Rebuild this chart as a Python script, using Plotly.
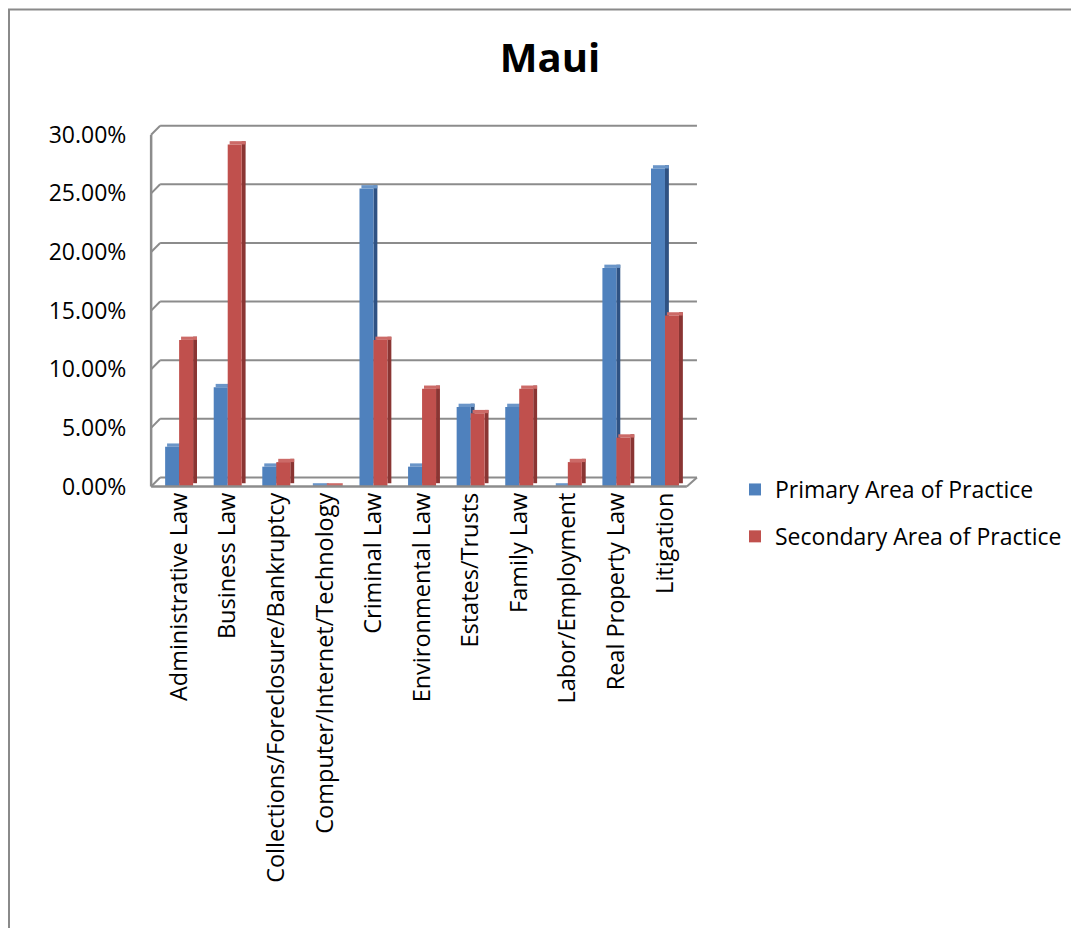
import plotly.graph_objects as go

categories = ["Administrative Law", "Business Law", "Collections/Foreclosure/Bankruptcy",
              "Computer/Internet/Technology", "Criminal Law", "Environmental Law",
              "Estates/Trusts", "Family Law", "Labor/Employment", "Real Property Law", "Litigation"]
primary = [3.39, 8.47, 1.69, 0.0, 25.42, 1.69, 6.78, 6.78, 0.0, 18.64, 27.12]
secondary = [12.50, 29.17, 2.08, 0.0, 12.50, 8.33, 6.25, 8.33, 2.08, 4.17, 14.58]
ytick_vals = [0, 5, 10, 15, 20, 25, 30]
ytick_text = ["0.00%", "5.00%", "10.00%", "15.00%", "20.00%", "25.00%", "30.00%"]

FONT = "Open Sans"
xs = list(range(len(categories)))
W = 0.288      # front face width
SIDE = 0.08    # side face width
LIFT = 0.28    # perspective lift

fig = go.Figure()

def add_series(vals, name, offset, front, side, top):
    fig.add_trace(go.Bar(x=xs, y=vals, base=[LIFT] * len(vals), offset=offset + W, width=SIDE,
                         marker=dict(color=side, line=dict(width=0)), showlegend=False,
                         hoverinfo="skip"))
    fig.add_trace(go.Bar(x=xs, y=[LIFT] * len(vals), base=vals, offset=offset + 0.04, width=W + 0.04,
                         marker=dict(color=top, line=dict(width=0)), showlegend=False,
                         hoverinfo="skip"))
    fig.add_trace(go.Bar(x=xs, y=vals, offset=offset, width=W, name=name,
                         marker=dict(color=front, line=dict(width=0)),
                         legendgroup=name))

add_series(primary, "Primary Area of Practice", -W, "#4F81BD", "#2F5283", "#6A95C8")
add_series(secondary, "Secondary Area of Practice", 0.0, "#C0504D", "#8A3533", "#CC6A67")

# 3D frame (walls / gridlines)
GC = "#8C8C8C"
xl_front, xl_back, xr_back, xr_front = -0.576, -0.391, 10.658, 10.45
dv = 0.77
shapes = []
for v in ytick_vals[1:]:
    shapes.append(dict(type="line", xref="x", yref="y", x0=xl_back, x1=xr_back, y0=v + dv, y1=v + dv,
                       line=dict(color=GC, width=2), layer="below"))
    shapes.append(dict(type="line", xref="x", yref="y", x0=xl_front, x1=xl_back, y0=v, y1=v + dv,
                       line=dict(color=GC, width=2), layer="below"))
shapes += [
    dict(type="line", xref="x", yref="y", x0=xl_back, x1=xr_back, y0=dv, y1=dv, line=dict(color=GC, width=2), layer="below"),
    dict(type="line", xref="x", yref="y", x0=xl_front, x1=xr_front, y0=0, y1=0, line=dict(color=GC, width=2.5)),
    dict(type="line", xref="x", yref="y", x0=xr_front, x1=xr_back, y0=0, y1=dv, line=dict(color=GC, width=2)),
    dict(type="line", xref="x", yref="y", x0=xl_front, x1=xl_back, y0=0, y1=dv, line=dict(color=GC, width=2), layer="below"),
    dict(type="line", xref="x", yref="y", x0=xl_front, x1=xl_front, y0=0, y1=30, line=dict(color=GC, width=2.5)),
]

# page offset (body margin) compensation
OFF = 8
FW, FH = 1079 - OFF, 928 - OFF
L, T = 149 - OFF, 123 - OFF
PW, PH = 550, 367
def px(x): return (x - OFF - L) / PW
def py(y): return (T + PH - (y - OFF)) / PH
shapes.append(dict(type="rect", xref="paper", yref="paper", x0=px(9), x1=px(1100), y0=py(950), y1=py(9.5),
                   line=dict(color="#8A8A8A", width=2), fillcolor="rgba(0,0,0,0)", layer="below"))

fig.update_layout(
    width=FW, height=FH,
    margin=dict(l=L, r=FW - L - PW, t=T, b=FH - T - PH, autoexpand=False),
    barmode="overlay",
    plot_bgcolor="white", paper_bgcolor="white",
    font=dict(family=FONT, color="#000000"),
    title=dict(text="<b>Maui</b>", x=px(550), xref="paper", xanchor="center",
               y=1 - (58 - OFF) / FH, yref="container", yanchor="middle",
               font=dict(family=FONT, size=40, color="#000000")),
    xaxis=dict(range=[-0.62, 10.7], tickmode="array", tickvals=xs, ticktext=categories,
               tickangle=-90, showgrid=False, zeroline=False, showline=False,
               ticks="", ticklabelstandoff=-3,
               tickfont=dict(family=FONT, size=23.5, color="#000000")),
    yaxis=dict(range=[-0.3, 31], tickmode="array", tickvals=ytick_vals, ticktext=ytick_text,
               showgrid=False, zeroline=False, showline=False,
               ticks="outside", ticklen=17, tickcolor="rgba(0,0,0,0)",
               tickfont=dict(family=FONT, size=23, color="#000000")),
    legend=dict(x=px(735), y=py(468), xanchor="left", yanchor="top", xref="paper", yref="paper",
                font=dict(family=FONT, size=23, color="#000000"), tracegroupgap=14,
                traceorder="grouped", bgcolor="rgba(0,0,0,0)"),
    shapes=shapes,
)

fig.write_html("out.html")
